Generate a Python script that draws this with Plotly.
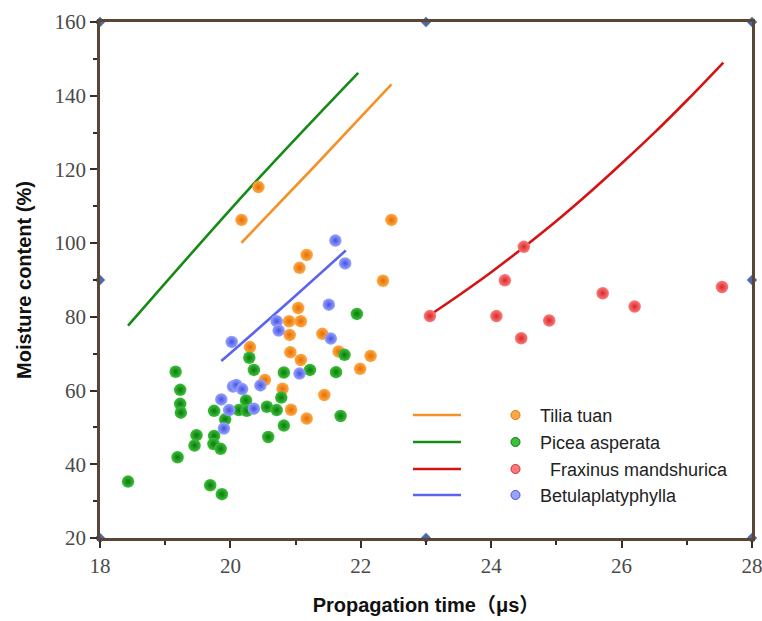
import plotly.graph_objects as go

# ---------------- data ----------------
tilia_x = [20.43, 20.17, 22.47, 21.17, 21.06, 22.34, 21.04, 20.90, 21.08, 20.91, 21.41, 20.30,
           21.66, 22.15, 21.99, 20.92, 21.08, 20.53, 20.80, 21.44, 20.93, 21.17]
tilia_y = [115.2, 106.3, 106.3, 96.8, 93.3, 89.8, 82.4, 78.8, 78.8, 75.1, 75.4, 71.8,
           70.6, 69.4, 65.9, 70.4, 68.3, 62.9, 60.5, 58.8, 54.8, 52.4]

picea_x = [18.43, 19.16, 19.23, 19.23, 19.24, 19.19, 19.48, 19.45, 19.75, 19.75, 19.74, 19.85,
           19.69, 19.87, 19.92, 20.24, 20.13, 20.25, 20.29, 20.36, 20.56, 20.71, 20.78, 20.82,
           20.82, 20.58, 21.22, 21.62, 21.75, 21.69, 21.94]
picea_y = [35.3, 65.1, 60.2, 56.4, 54.0, 41.9, 47.9, 45.1, 54.5, 47.7, 45.5, 44.2,
           34.3, 31.9, 52.2, 57.3, 54.7, 54.5, 68.9, 65.6, 55.6, 54.7, 58.1, 64.9,
           50.5, 47.4, 65.6, 65.0, 69.7, 53.1, 80.8]

fraxinus_x = [23.06, 24.50, 24.21, 24.08, 24.46, 24.89, 25.71, 26.20, 27.54]
fraxinus_y = [80.2, 99.0, 89.9, 80.2, 74.2, 79.0, 86.4, 82.8, 88.1]

betula_x = [21.61, 21.76, 21.51, 20.71, 20.74, 21.54, 20.02, 21.06, 20.46, 20.04, 20.09, 20.18,
            19.86, 19.98, 20.36, 19.90]
betula_y = [100.7, 94.5, 83.3, 78.8, 76.3, 74.1, 73.2, 64.6, 61.4, 61.1, 61.5, 60.4,
            57.6, 54.7, 55.1, 49.7]

# fitted curves
tilia_fit_x = [20.17, 21.32, 22.47]
tilia_fit_y = [100.1, 121.4, 143.1]
picea_fit_x = [18.43, 20.30, 21.96]
picea_fit_y = [77.6, 115.0, 146.2]
fraxinus_fit_x = [23.06, 23.5, 24.0, 24.5, 25.0, 25.5, 26.0, 26.5, 27.0, 27.56]
fraxinus_fit_y = [80.5, 85.8, 92.1, 98.9, 106.0, 113.6, 121.6, 129.9, 138.7, 149.0]
betula_fit_x = [19.86, 20.80, 21.77]
betula_fit_y = [68.0, 82.6, 98.0]

names = ["Tilia tuan", "Picea asperata", "\u00a0\u00a0Fraxinus mandshurica", "Betulaplatyphylla"]

# handles on the frame
handle_x = [18, 23, 28, 18, 28, 18, 23, 28]
handle_y = [160, 160, 160, 90, 90, 20, 20, 20]

# ---------------- styles ----------------
line_colors = ["#f39228", "#168a16", "#d41414", "#5a64ec"]
dot_light = ["#ffaa48", "#3cc03c", "#ff7a7a", "#9aa4ff"]
dot_dark = ["#e56e00", "#0a7a0a", "#d42a2a", "#4452e0"]

fig = go.Figure()

series = [(tilia_x, tilia_y, tilia_fit_x, tilia_fit_y),
          (picea_x, picea_y, picea_fit_x, picea_fit_y),
          (fraxinus_x, fraxinus_y, fraxinus_fit_x, fraxinus_fit_y),
          (betula_x, betula_y, betula_fit_x, betula_fit_y)]

for i, (sx, sy, fx, fy) in enumerate(series):
    fig.add_trace(go.Scatter(x=fx, y=fy, mode="lines", line=dict(color=line_colors[i], width=2.6, shape="spline"),
                             showlegend=False, hoverinfo="skip"))
for i, (sx, sy, fx, fy) in enumerate(series):
    fig.add_trace(go.Scatter(x=sx, y=sy, mode="markers", name=names[i], showlegend=False,
                             marker=dict(size=12.5, color=dot_light[i], line=dict(width=0),
                                         gradient=dict(type="radial", color=dot_dark[i]))))

fig.add_trace(go.Scatter(x=handle_x, y=handle_y, mode="markers", showlegend=False, hoverinfo="skip",
                         cliponaxis=False,
                         marker=dict(symbol="diamond", size=8, color="#4d6aa3", line=dict(width=0))))

# ---------------- manual legend ----------------
# page pixel geometry of the plot area (body margin removed below)
L, R, T, B = 100, 752, 22, 538
W, H = 762, 621

def px(xp):
    return (xp - L) / (R - L)

def py(yp):
    return (B - yp) / (B - T)

legend_rows = [415, 442, 469, 495]
text_x = 538
shapes = []
annotations = []
for i, yr in enumerate(legend_rows):
    shapes.append(dict(type="line", xref="paper", yref="paper", x0=px(413), x1=px(461), y0=py(yr), y1=py(yr),
                       line=dict(color=line_colors[i], width=2.4)))
    shapes.append(dict(type="circle", xref="paper", yref="paper", x0=px(511), x1=px(520), y0=py(yr + 4.5), y1=py(yr - 4.5),
                       fillcolor=dot_light[i], line=dict(color=dot_dark[i], width=1)))
    annotations.append(dict(text=names[i], xref="paper", yref="paper", x=px(text_x), y=py(yr + 1),
                            xanchor="left", yanchor="middle", showarrow=False,
                            font=dict(family="Liberation Sans, Arial", size=18, color="#222222")))

fig.update_layout(
    width=W, height=H,
    margin=dict(l=L, r=W - R, t=T, b=H - B, autoexpand=False),
    plot_bgcolor="white", paper_bgcolor="white",
    shapes=shapes, annotations=annotations,
    showlegend=False,
    xaxis=dict(range=[18, 28], tickvals=[18, 20, 22, 24, 26, 28], ticks="outside", ticklen=7, tickwidth=2,
               tickcolor="#3a2c20", showline=True, linecolor="#5a4636", linewidth=2.5, mirror=True,
               showgrid=False, zeroline=False, ticklabeloverflow="allow",
               minor=dict(tickvals=[19, 21, 23, 25, 27], ticks="outside", ticklen=4, tickwidth=2, tickcolor="#3a2c20"),
               tickfont=dict(family="Liberation Serif, Times New Roman", size=21, color="#4a4a4a"),
               title=dict(text="<b>Propagation time\uff08\u03bcs\uff09</b>", standoff=22,
                          font=dict(family="Liberation Sans, Arial, Noto Sans CJK SC", size=20, color="#111111"))),
    yaxis=dict(range=[20, 160], tickvals=[20, 40, 60, 80, 100, 120, 140, 160], ticks="outside", ticklen=7, tickwidth=2,
               tickcolor="#3a2c20", showline=True, linecolor="#5a4636", linewidth=2.5, mirror=True,
               showgrid=False, zeroline=False, ticklabeloverflow="allow",
               minor=dict(tickvals=[30, 50, 70, 90, 110, 130, 150], ticks="outside", ticklen=4, tickwidth=2, tickcolor="#3a2c20"),
               tickfont=dict(family="Liberation Serif, Times New Roman", size=21, color="#4a4a4a"),
               title=dict(text="<b>Moisture content (%)</b>", standoff=18,
                          font=dict(family="Liberation Sans, Arial", size=20, color="#111111"))),
)

fig.write_html("out.html", config={"displayModeBar": False},
               post_script="document.body.style.margin='0px'; document.body.style.overflow='hidden';")
